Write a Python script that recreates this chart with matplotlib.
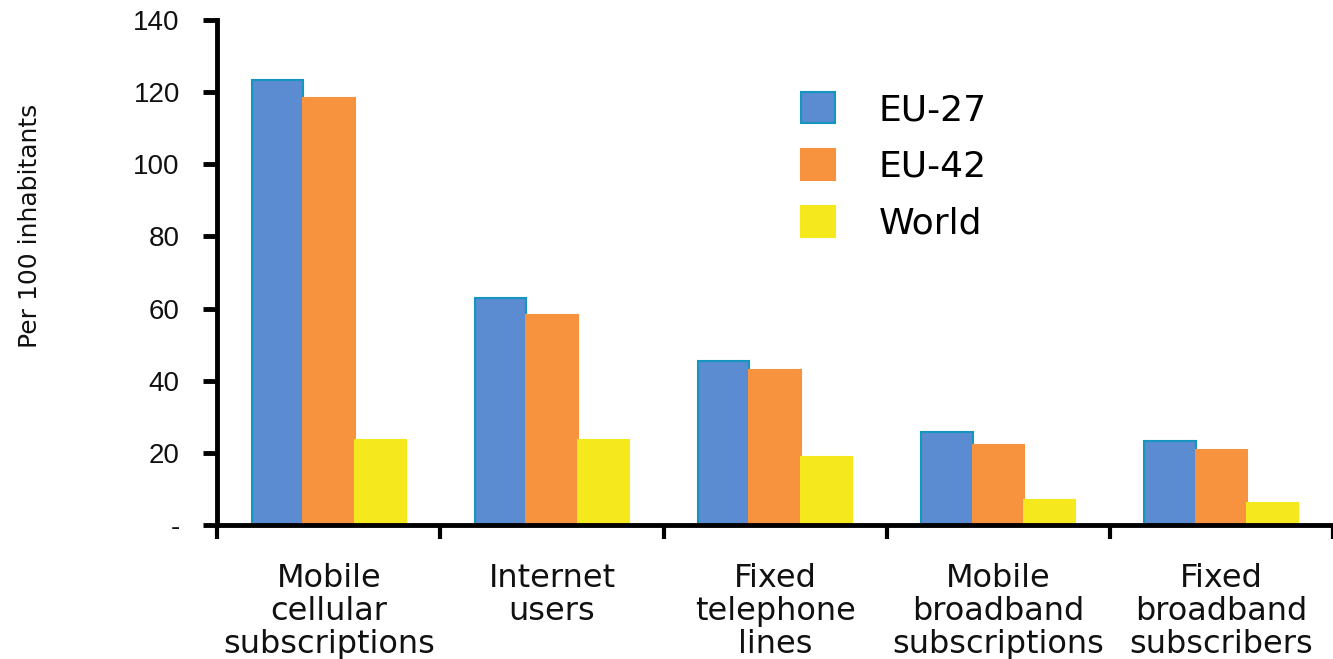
import matplotlib
matplotlib.use("Agg")
import matplotlib.pyplot as plt
import numpy as np

categories = ["Mobile\ncellular\nsubscriptions", "Internet\nusers", "Fixed\ntelephone\nlines",
              "Mobile\nbroadband\nsubscriptions", "Fixed\nbroadband\nsubscribers"]
series = ["EU-27", "EU-42", "World"]
eu27 = [123.3, 63.0, 45.5, 25.8, 23.3]
eu42 = [118.3, 58.3, 43.0, 22.2, 20.8]
world = [23.6, 23.6, 19.0, 7.0, 6.1]
yticks = [0, 20, 40, 60, 80, 100, 120, 140]
ytick_labels = ["-", "20", "40", "60", "80", "100", "120", "140"]

fill_colors = ["#5b8bd0", "#f7923f", "#f5e81c"]
edge_colors = ["#1596bf", "#f7923f", "#f5e81c"]

fig = plt.figure(figsize=(13.33, 6.59), dpi=100)
fig.patch.set_facecolor("white")
ax = fig.add_axes([0.163, 0.203, 0.837, 0.767])

x = np.arange(len(categories))
w = 0.23
for i, (vals, name) in enumerate(zip([eu27, eu42, world], series)):
    ax.bar(x + (i - 1) * w, vals, w, color=fill_colors[i], edgecolor=edge_colors[i],
           linewidth=1.5, label=name)

ax.set_xlim(-0.5, 4.46)
ax.set_ylim(0, 140)

for s in ["top", "right"]:
    ax.spines[s].set_visible(False)
ax.spines["left"].set_linewidth(3.5)
ax.spines["bottom"].set_linewidth(3.5)

ax.set_yticks(yticks)
ax.set_yticklabels(ytick_labels, fontsize=20, family="Liberation Sans", color="#111111")
ax.tick_params(axis="y", length=10, width=3.5, pad=17)

# category ticks sit between groups, labels centred on groups
ax.set_xticks(np.arange(len(categories) + 1) - 0.5)
ax.set_xticklabels([])
ax.tick_params(axis="x", length=10, width=3)
for xi, lab in zip(x, categories):
    ax.text(xi, -10.5, lab, ha="center", va="top", fontsize=23, linespacing=1.08,
            color="#111111", clip_on=False)

ax.set_ylabel("Per 100 inhabitants", fontsize=18, color="#111111")
ax.yaxis.set_label_coords(-0.157, 0.592)

ax.legend(loc="upper left", bbox_to_anchor=(0.494, 0.921), frameon=False,
          fontsize=26, handlelength=0.95, handleheight=0.95, labelspacing=0.6,
          handletextpad=1.2)

plt.savefig("out.png", dpi=100)
plt.close()
